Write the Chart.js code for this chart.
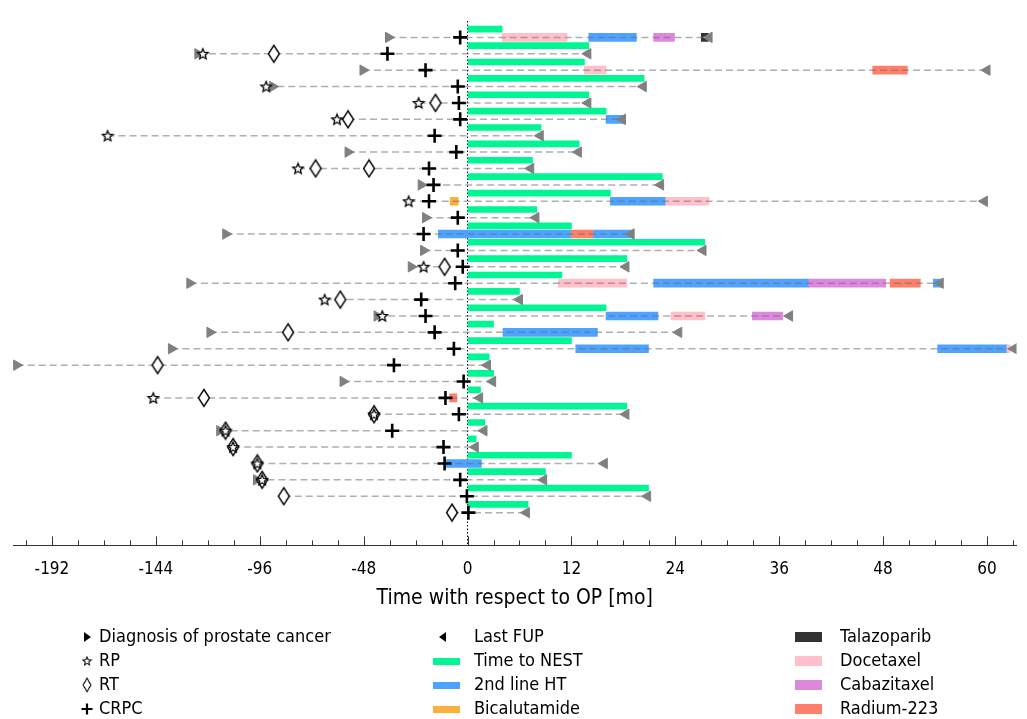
<!DOCTYPE html>
<html>
<head>
<meta charset="utf-8">
<script src="https://cdn.jsdelivr.net/npm/chart.js@4.4.1/dist/chart.umd.min.js"></script>
<style>
  html, body { margin: 0; padding: 0; background: #fff; }
</style>
</head>
<body>
<canvas id="timeline" width="1027" height="719"></canvas>
<script>
// months relative to OP, one entry per patient (top to bottom)
const nestEnd = [4.0, 14.0, 13.5, 20.4, 14.0, 16.0, 8.5, 12.9, 7.5, 22.5, 16.5, 8.0, 12.0, 27.4, 18.4,
                 10.9, 6.0, 16.0, 3.0, 12.0, 2.5, 3.0, 1.5, 18.4, 2.0, 1.0, 12.0, 9.0, 20.9, 7.0];
const lastFup = [27.9, 13.9, 60.0, 20.3, 13.9, 17.9, 8.4, 12.8, 7.3, 22.3, 59.7, 7.9, 18.9, 27.2, 18.3,
                 54.6, 6.0, 37.2, 24.4, 63.1, 2.3, 2.9, 1.4, 18.3, 1.9, 0.9, 15.8, 8.8, 20.8, 6.8];
const diagnosis = [-36.5, -124.6, -48.3, -90, null, null, null, -55.2, null, -21.4, null, -19.4, -111.7, -20.3, -26.0,
                   -128.3, null, -41.8, -119, -136.8, -208.3, -57.5, null, null, -114.5, null, null, -97.5, null, null];
const crpc = [-3.4, -37, -19.4, -4.5, -4.0, -3.4, -15.2, -5.2, -17.8, -15.7, -17.8, -4.5, -20.3, -4.5, -2.2,
              -5.7, -21.4, -19.4, -15.2, -6.3, -34.0, -1.8, -10.2, -4.0, -34.8, -11.1, -10.6, -3.4, -0.3, 0.1];

// [patient, month]
const rp = [[2, -122.3], [4, -93], [5, -22.6], [6, -60.3], [7, -166.3], [9, -78.3], [11, -27.2], [15, -20.3],
            [17, -66.0], [18, -39.4], [23, -145.2], [24, -43.2], [25, -111.8], [26, -108.3], [27, -97.1], [28, -94.9]];
const rt = [[2, -89.5], [5, -14.8], [6, -55.2], [9, -70.2], [9, -45.5], [15, -10.6], [17, -58.8], [19, -82.9],
            [21, -143.2], [23, -121.8], [24, -43.2], [25, -111.8], [26, -108.3], [27, -97.1], [28, -94.9],
            [29, -84.9], [30, -7.2]];

// [patient, start, end]
const secondLineHT = [[1, 14.0, 19.5], [6, 16.0, 18.1], [11, 16.5, 22.9], [13, -13.5, 12.0], [13, 14.5, 19.1],
                      [16, 21.5, 39.4], [16, 53.8, 54.7], [18, 16.0, 22.0], [19, 4.1, 15.0], [20, 12.5, 20.9],
                      [20, 54.3, 62.3], [27, -10.2, 1.6]];
const docetaxel = [[1, 4.0, 11.5], [3, 13.5, 16.0], [11, 22.9, 27.9], [16, 10.5, 18.4], [18, 23.5, 27.4], [20, 62.3, 62.7]];
const cabazitaxel = [[1, 21.5, 23.9], [16, 39.4, 48.3], [18, 32.9, 36.4]];
const radium = [[3, 46.8, 50.8], [13, 12.0, 14.5], [16, 48.8, 52.3], [23, -8.3, -4.9]];
const talazoparib = [[1, 27.0, 27.8]];
const bicalutamide = [[11, -8.0, -4.3]];

const majorTicks = [-192, -144, -96, -48, 0, 12, 24, 36, 48, 60];
const markerLabels = ['Diagnosis of prostate cancer', 'RP', 'RT', 'CRPC'];
const otherLabels = ['Last FUP', 'Time to NEST', '2nd line HT', 'Bicalutamide'];
const drugLabels = ['Talazoparib', 'Docetaxel', 'Cabazitaxel', 'Radium-223'];

const FONT = "'Liberation Sans Narrow', 'DejaVu Sans Condensed', 'Noto Sans', sans-serif";
const GREEN = '#00f593', BLUE = '#4da3ff', ORANGE = '#fbb03b', DARK = '#333333',
      PINK = '#ffc0cb', PURPLE = '#dd88dd', SALMON = '#ff7f6b', GREY = '#808080';

// negative side of the axis is compressed 4x
const tx = m => (m < 0 ? m / 4 : m);
const seg = list => list.map(([p, a, b]) => ({ x: [tx(a), tx(b)], y: p }));
const pts = list => list.map(([p, m]) => ({ x: tx(m), y: p }));

function makeStar(r, lw) {
  const s = Math.ceil(2 * r + 2 * lw);
  const c = document.createElement('canvas');
  c.width = c.height = s;
  const g = c.getContext('2d');
  g.translate(s / 2, s / 2 + 0.5);
  g.beginPath();
  for (let k = 0; k < 10; k++) {
    const a = -Math.PI / 2 + k * Math.PI / 5;
    const rad = k % 2 ? r * 0.45 : r;
    g.lineTo(Math.cos(a) * rad, Math.sin(a) * rad);
  }
  g.closePath();
  g.fillStyle = '#fff';
  g.fill();
  g.lineWidth = lw;
  g.strokeStyle = '#000';
  g.stroke();
  return c;
}

function makeDiamond(w, h, lw) {
  const c = document.createElement('canvas');
  c.width = Math.ceil(w + 2 * lw);
  c.height = Math.ceil(h + 2 * lw);
  const g = c.getContext('2d');
  const cx = c.width / 2, cy = c.height / 2;
  g.beginPath();
  g.moveTo(cx, cy - h / 2);
  g.lineTo(cx + w / 2, cy);
  g.lineTo(cx, cy + h / 2);
  g.lineTo(cx - w / 2, cy);
  g.closePath();
  g.fillStyle = '#fff';
  g.fill();
  g.lineWidth = lw;
  g.strokeStyle = '#000';
  g.stroke();
  return c;
}

const starImg = makeStar(5.5, 1.3);
const diamondImg = makeDiamond(11, 17, 1.4);

// dashed follow-up line per patient
const followLine = [];
nestEnd.forEach((_, i) => {
  const p = i + 1;
  const starts = [diagnosis[i], crpc[i]]
    .concat(rp.filter(r => r[0] === p).map(r => r[1]))
    .concat(rt.filter(r => r[0] === p).map(r => r[1]))
    .filter(v => v !== null);
  followLine.push({ x: tx(Math.min(...starts)), y: p }, { x: tx(lastFup[i]), y: p }, { x: null, y: null });
});

const barDefaults = { type: 'bar', indexAxis: 'y', grouped: false, barThickness: 8, borderWidth: 0, borderSkipped: false };

const inwardTicks = {
  id: 'inwardTicks',
  afterDraw(chart) {
    const { ctx, scales: { x } } = chart;
    ctx.save();
    ctx.strokeStyle = '#333';
    ctx.lineWidth = 1;
    x.ticks.forEach(t => {
      const px = Math.round(x.getPixelForValue(t.value)) + 0.5;
      const len = t.label !== '' ? 9 : 5;
      ctx.beginPath();
      ctx.moveTo(px, x.top);
      ctx.lineTo(px, x.top - len);
      ctx.stroke();
    });
    ctx.restore();
  }
};

const sideLegend = {
  id: 'sideLegend',
  afterDraw(chart) {
    const ctx = chart.ctx;
    const rows = [637, 661, 685, 709];
    ctx.save();
    ctx.font = '18px ' + FONT;
    ctx.fillStyle = '#000';
    ctx.textBaseline = 'middle';
    // column 1: markers
    rows.forEach((y, k) => {
      ctx.fillStyle = '#000';
      ctx.fillText(markerLabels[k], 99, y);
      const ix = 87;
      if (k === 0) {
        ctx.beginPath();
        ctx.moveTo(ix - 3, y - 5); ctx.lineTo(ix + 4, y); ctx.lineTo(ix - 3, y + 5); ctx.closePath(); ctx.fill();
      } else if (k === 1) {
        ctx.drawImage(starImg, ix - 5.5, y - 5.5, 11, 11);
      } else if (k === 2) {
        ctx.drawImage(diamondImg, ix - 5, y - 8, 10, 16);
      } else {
        ctx.lineWidth = 2.2; ctx.strokeStyle = '#000';
        ctx.beginPath();
        ctx.moveTo(ix - 5.5, y); ctx.lineTo(ix + 5.5, y);
        ctx.moveTo(ix, y - 5.5); ctx.lineTo(ix, y + 5.5);
        ctx.stroke();
      }
    });
    // column 2
    const col2 = [null, GREEN, BLUE, ORANGE];
    rows.forEach((y, k) => {
      ctx.fillStyle = '#000';
      ctx.fillText(otherLabels[k], 474, y);
      if (k === 0) {
        const ix = 443;
        ctx.beginPath();
        ctx.moveTo(ix + 3, y - 5); ctx.lineTo(ix - 4, y); ctx.lineTo(ix + 3, y + 5); ctx.closePath(); ctx.fill();
      } else {
        ctx.fillStyle = col2[k];
        ctx.fillRect(433, y - 3, 27, 7);
      }
    });
    // column 3
    const col3 = [DARK, PINK, PURPLE, SALMON];
    rows.forEach((y, k) => {
      ctx.fillStyle = '#000';
      ctx.fillText(drugLabels[k], 840, y);
      ctx.fillStyle = col3[k];
      ctx.fillRect(795, y - 5, 27, 10);
    });
    ctx.restore();
  }
};

new Chart(document.getElementById('timeline'), {
  type: 'bar',
  data: {
    datasets: [
      { type: 'scatter', data: crpc.map((m, i) => ({ x: tx(m), y: i + 1 })), pointStyle: 'cross',
        pointRadius: 7, borderWidth: 2.6, borderColor: '#000', order: 0 },
      { type: 'scatter', data: pts(rp), pointStyle: starImg, pointRadius: 6, order: 1 },
      { type: 'scatter', data: pts(rt), pointStyle: diamondImg, pointRadius: 8, order: 2 },
      { type: 'scatter', data: diagnosis.map((m, i) => ({ x: m === null ? null : tx(m), y: m === null ? null : i + 1 })),
        pointStyle: 'triangle', rotation: 90, pointRadius: 6, backgroundColor: GREY, borderColor: GREY, borderWidth: 1, order: 3 },
      { type: 'scatter', data: lastFup.map((m, i) => ({ x: tx(m), y: i + 1 })),
        pointStyle: 'triangle', rotation: -90, pointRadius: 6, backgroundColor: GREY, borderColor: GREY, borderWidth: 1, order: 3 },
      { type: 'scatter', data: followLine, showLine: true, spanGaps: false, pointRadius: 0,
        borderColor: 'rgba(110,110,110,0.55)', borderWidth: 1.5, borderDash: [7, 4], order: 5 },
      { ...barDefaults, data: seg(talazoparib), backgroundColor: DARK, order: 6 },
      { ...barDefaults, data: seg(radium), backgroundColor: SALMON, order: 7 },
      { ...barDefaults, data: seg(cabazitaxel), backgroundColor: PURPLE, order: 8 },
      { ...barDefaults, data: seg(docetaxel), backgroundColor: PINK, order: 9 },
      { ...barDefaults, data: seg(bicalutamide), backgroundColor: ORANGE, order: 10 },
      { ...barDefaults, data: seg(secondLineHT), backgroundColor: BLUE, order: 11 },
      { ...barDefaults, data: nestEnd.map((m, i) => ({ x: [0, tx(m)], y: i + 0.5 })), backgroundColor: GREEN,
        barThickness: 6, order: 12 },
      { type: 'scatter', data: [{ x: 0, y: 0 }, { x: 0, y: 32 }], showLine: true, pointRadius: 0,
        borderColor: '#000', borderWidth: 1, borderDash: [1.5, 2], order: 13 }
    ]
  },
  options: {
    responsive: false,
    animation: false,
    events: [],
    layout: { padding: { left: 13, right: 0, top: 21, bottom: 108 } },
    plugins: { legend: { display: false }, tooltip: { enabled: false } },
    scales: {
      x: {
        type: 'linear',
        min: -52.5,
        max: 63.4,
        offset: false,
        afterBuildTicks: scale => {
          const t = [];
          for (let m = -204; m < 0; m += 12) t.push({ value: tx(m) });
          for (let m = 0; m <= 63; m += 3) t.push({ value: m });
          scale.ticks = t;
        },
        grid: { display: true, offset: false, drawOnChartArea: false, drawTicks: false },
        border: { display: true, color: '#333', width: 1 },
        ticks: {
          autoSkip: false,
          maxRotation: 0,
          padding: 14,
          color: '#000',
          font: { size: 17, family: FONT },
          callback: v => {
            const m = v < 0 ? Math.round(v * 4) : v;
            return majorTicks.includes(m) ? String(m) : '';
          }
        },
        title: {
          display: true,
          text: 'Time with respect to OP [mo]',
          color: '#000',
          font: { size: 21, family: FONT },
          padding: { top: -8, bottom: 0 }
        }
      },
      y: { type: 'linear', min: 0, max: 32, reverse: true, offset: false, beginAtZero: false,
           grid: { offset: false }, display: false }
    }
  },
  plugins: [inwardTicks, sideLegend]
});
</script>
</body>
</html>
